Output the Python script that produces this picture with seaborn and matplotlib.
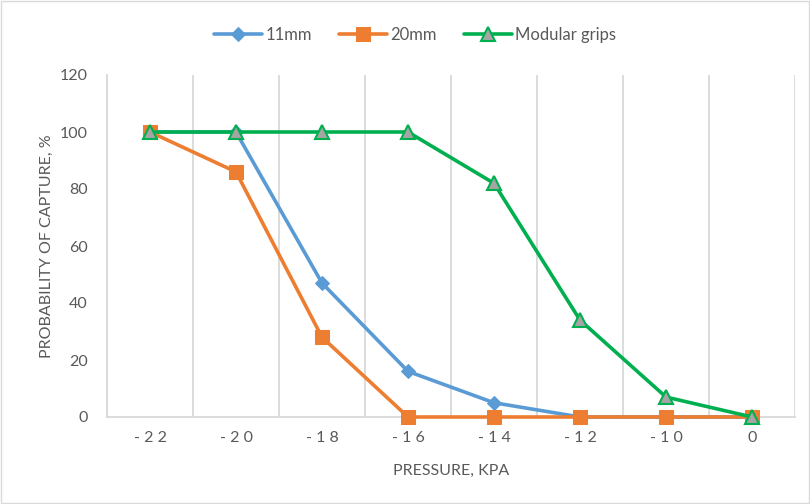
import numpy as np
import pandas as pd
import matplotlib
matplotlib.use("Agg")
import matplotlib.pyplot as plt
import seaborn as sns

# data
pressure = ["-22", "-20", "-18", "-16", "-14", "-12", "-10", "0"]
grip_11mm = [100, 100, 47, 16, 5, 0, 0, 0]
grip_20mm = [100, 86, 28, 0, 0, 0, 0, 0]
modular = [100, 100, 100, 100, 82, 34, 7, 0]

sns.set_style("white")
plt.rcParams['font.family'] = ['Lato', 'DejaVu Sans']
text_col = "#595959"
grid_col = "#d9d9d9"

pos = np.arange(len(pressure))
df = pd.DataFrame({"pos": pos, "11mm": grip_11mm, "20mm": grip_20mm, "Modular grips": modular})

fig = plt.figure(figsize=(8.1, 5.04), dpi=100)
ax = fig.add_axes([107 / 810, 1 - 417 / 504, 688 / 810, 342 / 504])

sns.lineplot(data=df, x="pos", y="11mm", ax=ax, color="#5b9bd5", lw=2.6, clip_on=False,
             marker="D", markersize=7, markeredgecolor="#5b9bd5", label="11mm", zorder=3)
sns.lineplot(data=df, x="pos", y="20mm", ax=ax, color="#ed7d31", lw=2.6, clip_on=False,
             marker="s", markersize=10, markeredgecolor="#ed7d31", label="20mm", zorder=4)
sns.lineplot(data=df, x="pos", y="Modular grips", ax=ax, color="#00b050", lw=2.6, clip_on=False,
             marker="^", markersize=9.5, markerfacecolor="#a5a5a5", markeredgecolor="#00b050",
             markeredgewidth=1.5, label="Modular grips", zorder=5)

ax.set_xlim(-0.5, len(pressure) - 0.5)
ax.set_ylim(0, 120)
ax.set_yticks(range(0, 121, 20))
ax.set_xticks(pos)
ax.set_xticklabels([" ".join(p) for p in pressure])
ax.set_xticks(np.arange(-0.5, len(pressure), 1), minor=True)
ax.grid(True, which="minor", axis="x", color=grid_col, lw=1.3)
ax.grid(False, which="major")
ax.tick_params(which="both", length=0, labelsize=11.5, colors=text_col, pad=10)
ax.tick_params(axis="y", pad=14)

for s in ["top", "right"]:
    ax.spines[s].set_visible(False)
ax.spines["left"].set_color(grid_col)
ax.spines["bottom"].set_color(grid_col)
ax.spines["left"].set_linewidth(1.3)
ax.spines["bottom"].set_linewidth(1.3)

ax.set_xlabel("PRESSURE, KPA", fontsize=11.5, color=text_col, labelpad=14)
ax.set_ylabel("PROBABILITY OF CAPTURE, %", fontsize=11.5, color=text_col, labelpad=4)

leg = ax.legend(loc="center", bbox_to_anchor=(415 / 810, (504 - 35) / 504), bbox_transform=fig.transFigure,
                ncol=3, frameon=False, fontsize=12, handlelength=2.9, columnspacing=1.6, handletextpad=0.2)
for t in leg.get_texts():
    t.set_color(text_col)

fig.patches.append(plt.Rectangle((0.001, 0.001), 0.998, 0.998, transform=fig.transFigure,
                                 fill=False, edgecolor="#d9d9d9", lw=1))

fig.savefig("out.png", dpi=100)
